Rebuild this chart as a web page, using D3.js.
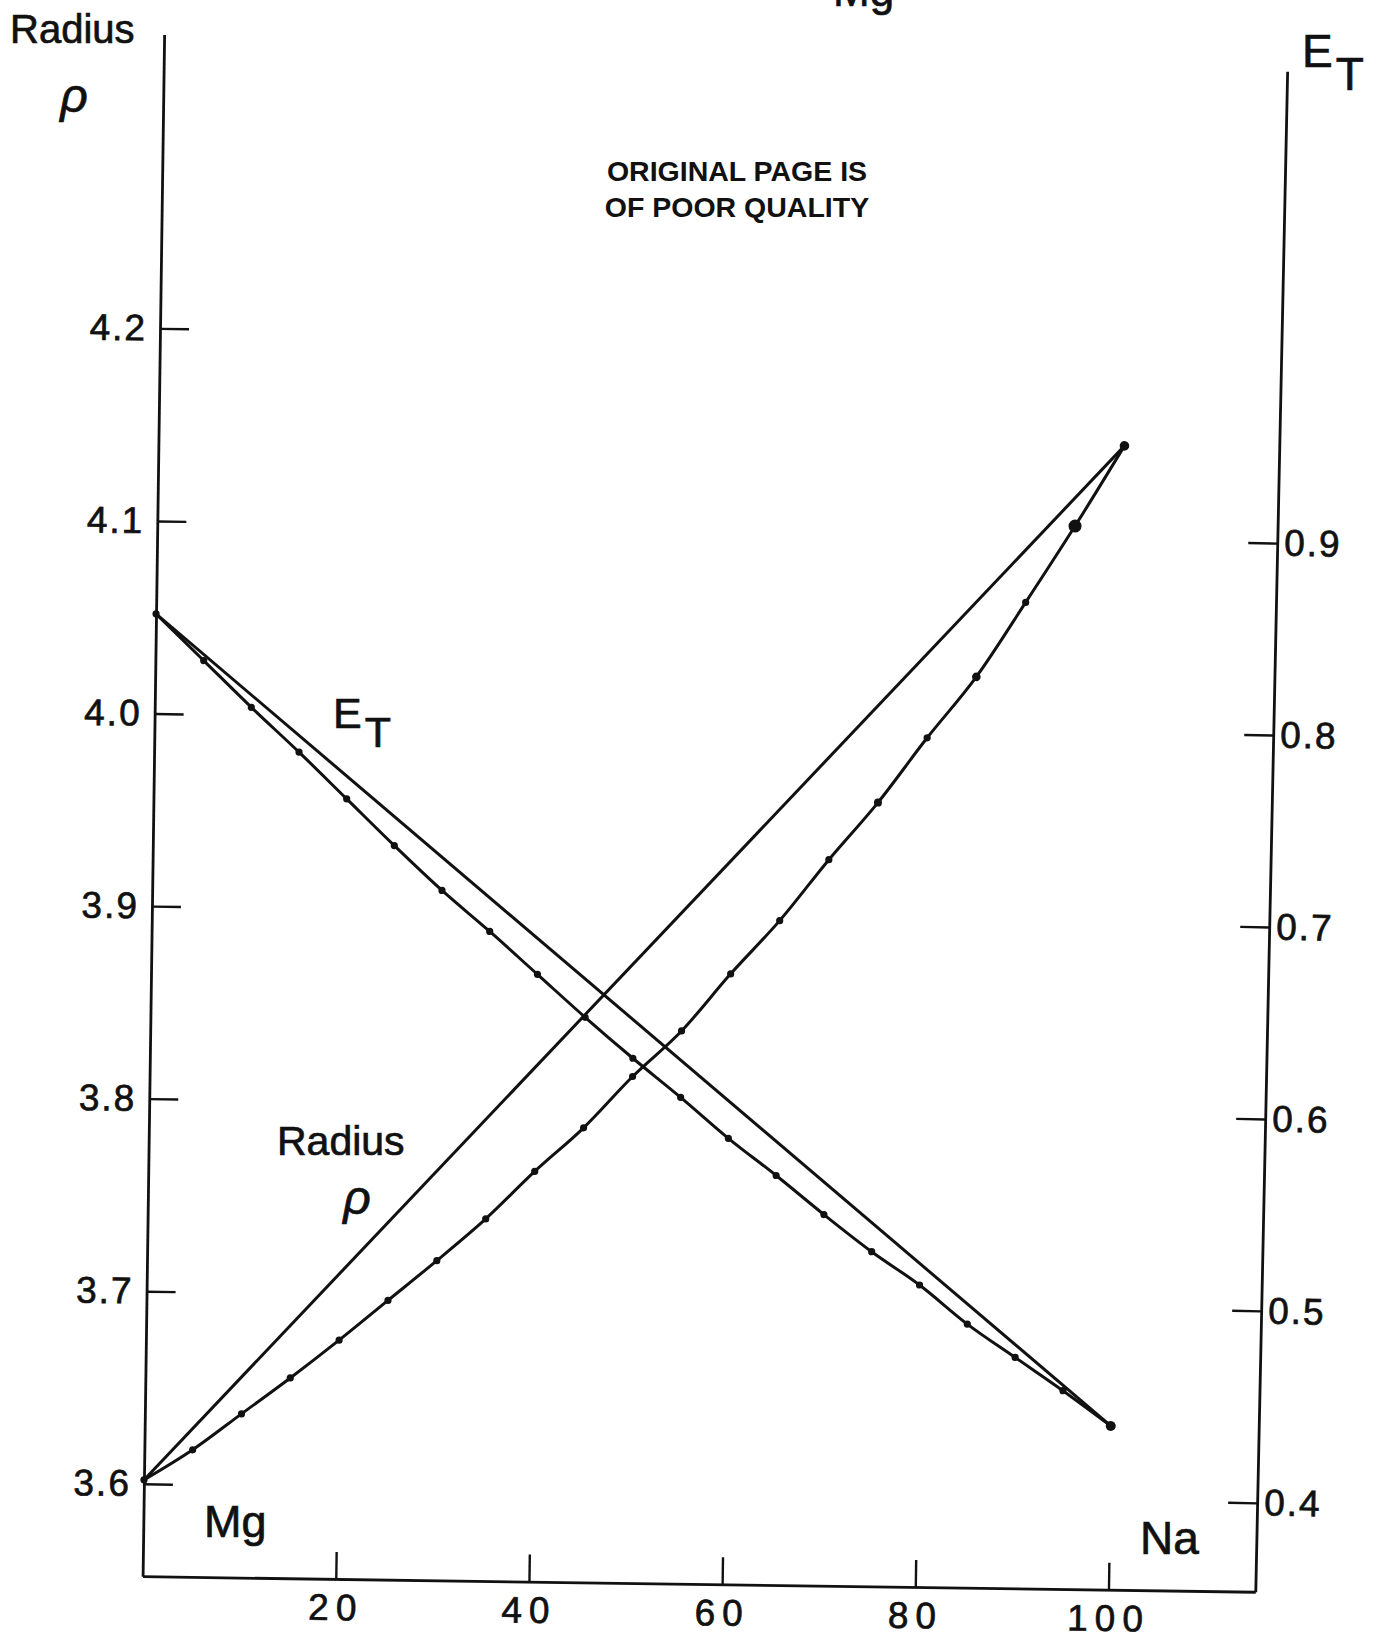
<!DOCTYPE html>
<html>
<head>
<meta charset="utf-8">
<script src="https://cdn.jsdelivr.net/npm/d3@7"></script>
<style>
  body { margin: 0; background: #fff; }
  svg text { font-family: "Liberation Sans", Arial, sans-serif; fill: #111; }
  svg text.lettered { stroke: #111; stroke-width: 0.7px; }
  .axis path, .axis line { stroke: #111; }
</style>
</head>
<body>
<svg id="chart"></svg>
<script>
// Mg-Na composition (percent Na) at which the points were plotted
const naPercent = [0, 5, 10, 15, 20, 25, 30, 35, 40, 45, 50, 55, 60, 65, 70, 75, 80, 85, 90, 95, 100];

// radius rho, left axis
const radiusValues = [3.602, 3.618, 3.637, 3.656, 3.676, 3.697, 3.718, 3.740, 3.765, 3.788, 3.815,
                      3.839, 3.869, 3.897, 3.929, 3.959, 3.993, 4.025, 4.064, 4.104, 4.146];
// E_T, right axis
const etValues = [0.855, 0.831, 0.807, 0.784, 0.760, 0.736, 0.713, 0.692, 0.670, 0.648, 0.627,
                  0.607, 0.586, 0.567, 0.547, 0.528, 0.511, 0.491, 0.474, 0.457, 0.439];

// straight (linear interpolation) lines between the pure metals
const chordX = [0, 100];
const radiusChord = [3.602, 4.146];
const etChord = [0.855, 0.439];

const xTicks = [20, 40, 60, 80, 100];
const radiusTicks = [3.6, 3.7, 3.8, 3.9, 4.0, 4.1, 4.2];
const etTicks = [0.4, 0.5, 0.6, 0.7, 0.8, 0.9];

// --- layout ---------------------------------------------------------
const W = 1377, H = 1644;
const origin = [142.6, 1576.2];   // bottom-left corner of the frame
const tilt = 0.8;                 // the scanned page is slightly rotated
const plotW = 1112.8;

// points drawn with bigger blobs in the original
const bigDot = { radius: { 95: 6.5, 100: 4.8, 85: 4.3, 75: 4 }, et: { 100: 5 } };

const svg = d3.select("#chart").attr("width", W).attr("height", H);
svg.append("rect").attr("width", W).attr("height", H).attr("fill", "#fff");

const g = svg.append("g")
  .attr("transform", `translate(${origin[0]},${origin[1]}) rotate(${tilt})`);

const x = d3.scaleLinear().domain([0, 115.2]).range([0, plotW]);
const yR = d3.scaleLinear().domain([3.552, 4.3526]).range([0, -1541.8]);
const yE = d3.scaleLinear().domain([0.3537, 1.1458]).range([0, -1520.8]);

// axes
const left = g.append("g").attr("class", "axis")
  .call(d3.axisLeft(yR).tickValues(radiusTicks).tickFormat(d3.format(".1f"))
    .tickSizeInner(-29).tickSizeOuter(0).tickPadding(13));

const bottom = g.append("g").attr("class", "axis")
  .call(d3.axisBottom(x).tickValues(xTicks).tickFormat(d3.format("d"))
    .tickSizeInner(-27).tickSizeOuter(0).tickPadding(15));

const right = g.append("g").attr("class", "axis")
  .attr("transform", `translate(${plotW},0) rotate(0.4)`)
  .call(d3.axisRight(yE).tickValues(etTicks).tickFormat(d3.format(".1f"))
    .tickSizeInner(-29).tickSizeOuter(0).tickPadding(7));

[left, bottom, right].forEach(a => {
  a.select(".domain").attr("stroke-width", 2.8);
  a.selectAll(".tick line").attr("stroke-width", 2.4);
  a.selectAll(".tick text")
    .attr("class", "lettered")
    .attr("fill", "#111")
    .style("font-family", "'Liberation Sans', Arial, sans-serif")
    .style("font-size", "37px")
    .style("letter-spacing", "2px");
});
bottom.selectAll(".tick text").style("letter-spacing", "7px");

// lines
const curveR = d3.line().x(d => x(d[0])).y(d => yR(d[1])).curve(d3.curveMonotoneX);
const curveE = d3.line().x(d => x(d[0])).y(d => yE(d[1])).curve(d3.curveMonotoneX);
const straightR = d3.line().x(d => x(d[0])).y(d => yR(d[1]));
const straightE = d3.line().x(d => x(d[0])).y(d => yE(d[1]));

const radiusPts = naPercent.map((p, i) => [p, radiusValues[i]]);
const etPts = naPercent.map((p, i) => [p, etValues[i]]);

const lineStyle = sel => sel.attr("fill", "none").attr("stroke", "#111")
  .attr("stroke-width", 3).attr("stroke-linejoin", "round");

g.append("path").datum(chordX.map((p, i) => [p, radiusChord[i]])).attr("d", straightR).call(lineStyle);
g.append("path").datum(chordX.map((p, i) => [p, etChord[i]])).attr("d", straightE).call(lineStyle);
g.append("path").datum(radiusPts).attr("d", curveR).call(lineStyle);
g.append("path").datum(etPts).attr("d", curveE).call(lineStyle);

g.selectAll(".dot-r").data(radiusPts).join("circle")
  .attr("class", "dot-r")
  .attr("cx", d => x(d[0])).attr("cy", d => yR(d[1]))
  .attr("r", d => bigDot.radius[d[0]] || 3.6).attr("fill", "#111");

g.selectAll(".dot-e").data(etPts).join("circle")
  .attr("class", "dot-e")
  .attr("cx", d => x(d[0])).attr("cy", d => yE(d[1]))
  .attr("r", d => bigDot.et[d[0]] || 3.6).attr("fill", "#111");

// --- labels ---------------------------------------------------------
const txt = (sx, sy, s, size, opts = {}) => {
  const t = svg.append("text").attr("x", sx).attr("y", sy)
    .style("font-size", size + "px").text(s);
  if (opts.anchor) t.attr("text-anchor", opts.anchor);
  if (opts.italic) t.style("font-style", "italic");
  if (opts.bold) t.style("font-weight", "bold");
  else t.attr("class", "lettered");
  return t;
};
const subLabel = (sx, sy, main, sub, size, drop) => {
  const t = svg.append("text").attr("class", "lettered")
    .attr("x", sx).attr("y", sy).style("font-size", size + "px");
  t.append("tspan").text(main);
  t.append("tspan").attr("dx", 3).attr("dy", drop).text(sub);
};

// top of the page title, cut off by the scan
txt(833, 6, "Mg", 44);

txt(10, 43, "Radius", 40);
txt(74, 112, "ρ", 48, { anchor: "middle", italic: true });
subLabel(1302, 67, "E", "T", 46, 23);

txt(737, 181, "ORIGINAL PAGE IS", 28.5, { anchor: "middle", bold: true });
txt(737, 217, "OF POOR QUALITY", 28.5, { anchor: "middle", bold: true });

subLabel(333, 728, "E", "T", 43, 19);
txt(277, 1155, "Radius", 41);
txt(357, 1214, "ρ", 48, { anchor: "middle", italic: true });

txt(204, 1537, "Mg", 45);
txt(1140, 1554, "Na", 46);
</script>
</body>
</html>
